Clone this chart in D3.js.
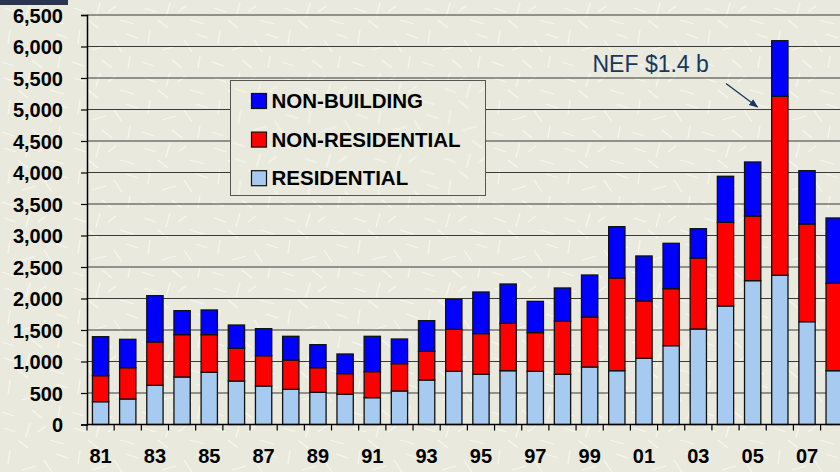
<!DOCTYPE html>
<html>
<head>
<meta charset="utf-8">
<script src="https://cdn.jsdelivr.net/npm/d3@7"></script>
<style>
  html, body { margin: 0; padding: 0; background: #e9e9de; }
  svg { display: block; font-family: "Liberation Sans", Arial, sans-serif; }
</style>
</head>
<body>
<svg id="chart"></svg>
<script>
// Construction value by type, 1981-2008
const years = ['81','82','83','84','85','86','87','88','89','90','91','92','93','94',
  '95','96','97','98','99','00','01','02','03','04','05','06','07','08'];
const residential = [362, 405, 622, 754, 828, 690, 611, 558, 511, 479, 426, 532, 706, 844,
  797, 854, 844, 797, 913, 854, 1050, 1251, 1516, 1881, 2283, 2368, 1632, 854];
const nonResidential = [413, 497, 688, 672, 598, 519, 481, 466, 391, 328, 413, 434, 455, 667,
  645, 752, 614, 841, 793, 1471, 910, 905, 1127, 1329, 1027, 2842, 1551, 1387];
const nonBuilding = [619, 450, 735, 381, 392, 370, 429, 376, 365, 312, 561, 391, 487, 476,
  661, 624, 497, 529, 667, 815, 715, 720, 465, 730, 857, 882, 846, 1037];
const yTicks = [0, 500, 1000, 1500, 2000, 2500, 3000, 3500, 4000, 4500, 5000, 5500, 6000, 6500];
const seriesNames = ['RESIDENTIAL', 'NON-RESIDENTIAL', 'NON-BUILDING'];
const seriesColors = ['#a6caf0', '#ff0000', '#0000ff'];

const width = 840, height = 472;
const font = '"Liberation Sans", Arial, sans-serif';
const svg = d3.select('#chart').attr('width', width).attr('height', height);

// Background texture
const defs = svg.append('defs');
const pat = defs.append('pattern')
  .attr('id', 'tex').attr('patternUnits', 'userSpaceOnUse')
  .attr('width', 70).attr('height', 70);
pat.append('rect').attr('width', 70).attr('height', 70).attr('fill', '#e9e9de');
const strokes = [[4,8,16,12],[30,3,26,17],[50,20,64,24],[10,30,8,44],[22,50,36,46],
  [44,40,52,52],[60,56,58,68],[2,62,14,66],[38,12,46,6],[56,34,68,38],[18,20,28,28],[32,60,42,68]];
pat.selectAll('line').data(strokes).enter().append('line')
  .attr('x1', d => d[0]).attr('y1', d => d[1]).attr('x2', d => d[2]).attr('y2', d => d[3])
  .attr('stroke', '#fbfbf4').attr('stroke-width', 1.2).attr('opacity', 0.75);
svg.append('rect').attr('width', width).attr('height', height).attr('fill', 'url(#tex)');

// Dark corner of the slide background
svg.append('rect').attr('x', 0).attr('y', 0).attr('width', 68).attr('height', 5)
  .attr('fill', '#2b3552');

const x0 = 87;
const xScale = d3.scaleBand()
  .domain(years)
  .range([x0, x0 + 28 * 27.17])
  .paddingInner(0.4)
  .paddingOuter(0.2);

const yScale = d3.scaleLinear()
  .domain([0, 6500])
  .range([424.5, 15]);

// Grid lines
svg.append('g').selectAll('line')
  .data(yTicks.filter(d => d > 0))
  .enter().append('line')
  .attr('x1', x0).attr('x2', width)
  .attr('y1', d => yScale(d)).attr('y2', d => yScale(d))
  .attr('stroke', '#3a3a3a').attr('stroke-width', 1.2);

// Y axis
const yAxis = svg.append('g')
  .attr('transform', `translate(${x0},0)`)
  .call(d3.axisLeft(yScale).tickValues(yTicks).tickSize(6).tickPadding(18)
    .tickFormat(d3.format(',')));
yAxis.attr('font-family', font).attr('font-size', null);
yAxis.select('.domain').attr('stroke', '#000').attr('stroke-width', 1.5);
yAxis.selectAll('.tick line').attr('stroke', '#000').attr('stroke-width', 1.2);
yAxis.selectAll('.tick text')
  .attr('fill', '#000')
  .attr('dy', '0.36em')
  .style('font-family', font)
  .style('font-size', '20px').style('font-weight', 'bold');

// Stacked bars
const table = years.map((y, i) => ({
  year: y,
  RESIDENTIAL: residential[i],
  'NON-RESIDENTIAL': nonResidential[i],
  'NON-BUILDING': nonBuilding[i]
}));
const stacked = d3.stack().keys(seriesNames)(table);

svg.append('g').selectAll('g')
  .data(stacked)
  .enter().append('g')
  .attr('fill', (d, i) => seriesColors[i])
  .selectAll('rect')
  .data(d => d)
  .enter().append('rect')
  .attr('x', d => xScale(d.data.year))
  .attr('width', xScale.bandwidth())
  .attr('y', d => yScale(d[1]))
  .attr('height', d => yScale(d[0]) - yScale(d[1]))
  .attr('stroke', '#111').attr('stroke-width', 1.3);

// X axis
const step = xScale.step();
const xStart = xScale(years[0]) - xScale.paddingOuter() * step;
const xAxis = svg.append('g');
xAxis.append('line')
  .attr('x1', x0).attr('x2', width)
  .attr('y1', yScale(0)).attr('y2', yScale(0))
  .attr('stroke', '#000').attr('stroke-width', 1.5);
xAxis.selectAll('.xt')
  .data(d3.range(years.length + 1))
  .enter().append('line')
  .attr('x1', i => xStart + i * step).attr('x2', i => xStart + i * step)
  .attr('y1', yScale(0)).attr('y2', yScale(0) + 6)
  .attr('stroke', '#000').attr('stroke-width', 1.2);
xAxis.selectAll('text')
  .data(years.filter((d, i) => i % 2 === 0))
  .enter().append('text')
  .attr('x', d => xScale(d) + xScale.bandwidth() / 2)
  .attr('y', 463)
  .attr('text-anchor', 'middle')
  .style('font-family', font)
  .style('font-size', '20px').style('font-weight', 'bold')
  .text(d => d);

// Legend
const legend = svg.append('g').attr('transform', 'translate(230.5,80.5)');
legend.append('rect')
  .attr('width', 255).attr('height', 115)
  .attr('fill', 'url(#tex)')
  .attr('stroke', '#555').attr('stroke-width', 1);
const legendOrder = [2, 1, 0];
const li = legend.selectAll('.li')
  .data(legendOrder)
  .enter().append('g')
  .attr('transform', (d, i) => `translate(21,${13 + i * 38.6})`);
li.append('rect')
  .attr('width', 15).attr('height', 15)
  .attr('fill', d => seriesColors[d])
  .attr('stroke', '#111').attr('stroke-width', 1.2);
li.append('text')
  .attr('x', 20).attr('y', 14.5)
  .style('font-family', font)
  .style('font-size', '20.5px').style('font-weight', 'bold')
  .attr('fill', '#000')
  .text(d => seriesNames[d]);

// Annotation
defs.append('marker')
  .attr('id', 'arrow').attr('viewBox', '0 0 10 10')
  .attr('refX', 9).attr('refY', 5)
  .attr('markerWidth', 7).attr('markerHeight', 7)
  .attr('orient', 'auto')
  .append('path').attr('d', 'M0,1 L10,5 L0,9 Z').attr('fill', '#17375e');
svg.append('text')
  .attr('x', 592.5).attr('y', 71.5)
  .style('font-family', font)
  .style('font-size', '23px')
  .attr('fill', '#17375e')
  .text('NEF $1.4 b');
svg.append('line')
  .attr('x1', 726).attr('y1', 83.5).attr('x2', 757.5).attr('y2', 107)
  .attr('stroke', '#17375e').attr('stroke-width', 1.3)
  .attr('marker-end', 'url(#arrow)');
</script>
</body>
</html>
